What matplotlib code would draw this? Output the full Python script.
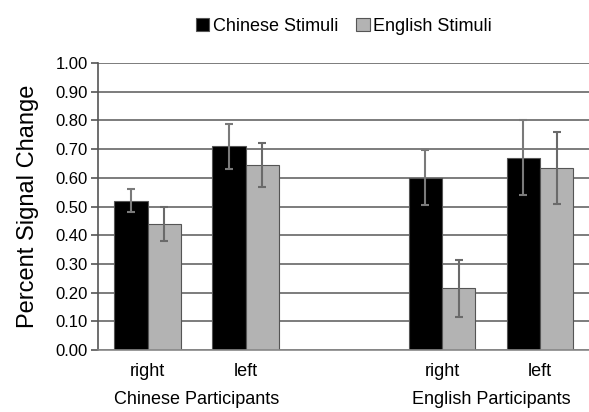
import matplotlib.pyplot as plt
import numpy as np

plt.rcParams["font.family"] = ["Liberation Sans", "DejaVu Sans"]

# data
hemispheres = ["right", "left", "right", "left"]
groups = ["Chinese Participants", "English Participants"]
positions = [0, 1, 3, 4]
chinese_stim = [0.52, 0.71, 0.60, 0.67]
chinese_err = [0.04, 0.078, 0.096, 0.13]
english_stim = [0.44, 0.645, 0.215, 0.635]
english_err = [0.06, 0.075, 0.10, 0.125]
yticks = np.arange(0, 1.01, 0.1)

fig = plt.figure(figsize=(5.89, 4.12), dpi=100)
ax = fig.add_axes([0.166, 0.150, 0.834, 0.697])

x = np.array(positions, dtype=float)
w = 0.34
ax.bar(x - w / 2, chinese_stim, w, color="black", edgecolor="#555555",
       linewidth=0.8, zorder=2, label="Chinese Stimuli")
ax.bar(x + w / 2, english_stim, w, color="#b3b3b3", edgecolor="#555555",
       linewidth=0.8, zorder=2, label="English Stimuli")
ax.errorbar(x - w / 2, chinese_stim, yerr=chinese_err, fmt="none",
            ecolor="#7a7a7a", elinewidth=1.5, capsize=3, capthick=1.5, zorder=3)
ax.errorbar(x + w / 2, english_stim, yerr=english_err, fmt="none",
            ecolor="#6a6a6a", elinewidth=1.5, capsize=3, capthick=1.5, zorder=3)

ax.set_xlim(-0.51, 4.5)
ax.set_ylim(0, 1.0)
ax.set_yticks(yticks)
ax.set_yticklabels(["%.2f" % t for t in yticks])
ax.set_xticks(x)
ax.set_xticklabels(hemispheres)
ax.yaxis.grid(True, color="#666666", linewidth=1.2, zorder=0)
ax.set_axisbelow(True)

for s in ["top", "right"]:
    ax.spines[s].set_visible(False)
ax.spines["left"].set_color("#555555")
ax.spines["left"].set_linewidth(1.2)
ax.spines["bottom"].set_color("#888888")
ax.spines["bottom"].set_linewidth(1.2)

ax.tick_params(axis="y", direction="out", length=5, width=1.2, color="#555555",
               labelsize=12, pad=2)
ax.tick_params(axis="x", length=0, labelsize=13, pad=9)
ax.set_ylabel("Percent Signal Change", fontsize=17, labelpad=12)

# group labels under the hemisphere labels
for i, g in enumerate(groups):
    ax.text((x[2 * i] + x[2 * i + 1]) / 2, -0.170, g, ha="center", va="center",
            fontsize=13, transform=ax.get_xaxis_transform())

fig.legend(loc="center", bbox_to_anchor=(0.584, 0.936), ncol=2, frameon=False,
           fontsize=13, handlelength=0.75, handleheight=0.75, handletextpad=0.2,
           columnspacing=1.0, borderpad=0)

fig.savefig("out.png", dpi=100)
plt.close()
